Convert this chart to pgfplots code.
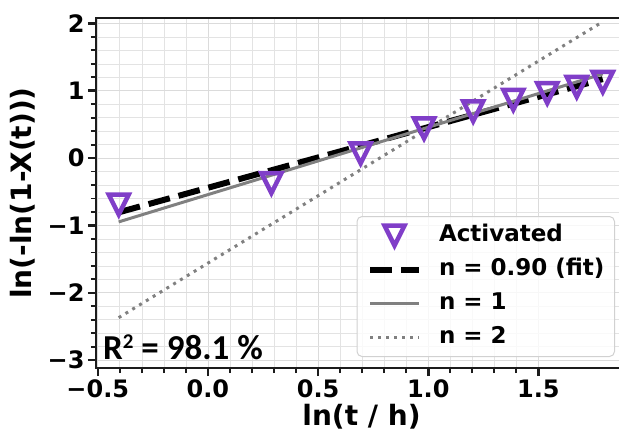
\documentclass[border=0pt]{standalone}
\usepackage{fontspec}
\setmainfont{DejaVu Sans}
\newfontfamily\calib{Carlito}
\usepackage{pgfplots}
\pgfplotsset{compat=1.18}

\definecolor{actv}{RGB}{128,62,200}
\definecolor{spine}{RGB}{28,28,28}

% downward triangle centred on its bounding box
\pgfdeclareplotmark{tridown}{%
  \pgfpathmoveto{\pgfqpoint{0pt}{-\pgfplotmarksize}}%
  \pgfpathlineto{\pgfqpoint{\pgfplotmarksize}{\pgfplotmarksize}}%
  \pgfpathlineto{\pgfqpoint{-\pgfplotmarksize}{\pgfplotmarksize}}%
  \pgfpathclose
  \pgfusepathqstroke}

\pgfplotsset{
  lineleg/.style={legend image code/.code={\draw[##1] (0pt,0pt) -- (49pt,0pt);}},
  markleg/.style={legend image code/.code={\draw[##1] plot coordinates {(24.5pt,0pt)};}},
}

\begin{document}
\begin{tikzpicture}
\begin{axis}[
  scale only axis, width=531pt, height=350pt,
  xmin=-0.508, xmax=1.902, ymin=-3.116, ymax=2.08,
  xtick={-0.5,0,0.5,1,1.5}, xticklabels={−0.5,0.0,0.5,1.0,1.5},
  ytick={-3,-2,-1,0,1,2}, yticklabels={−3,−2,−1,0,1,2},
  minor x tick num=4, minor y tick num=4,
  tick pos=left, tick align=outside,
  major tick length=8pt, minor tick length=5pt,
  major tick style={line width=2.5pt, spine},
  minor tick style={line width=1.8pt, spine},
  axis line style={line width=2.7pt, spine},
  grid=both,
  major grid style={line width=0.8pt, black!14},
  minor grid style={line width=0.6pt, black!11},
  ticklabel style={font=\fontsize{24}{28}\selectfont\bfseries},
  label style={font=\fontsize{28}{32}\selectfont\bfseries},
  xlabel={ln(t / h)}, ylabel={ln(-ln(1-X(t)))},
  ylabel style={yshift=6pt},
  legend cell align=left,
  legend style={at={(0.9774,0.0314)}, anchor=south east,
    draw=black!18, line width=1pt, rounded corners=5pt,
    fill=white, fill opacity=0.8, text opacity=1,
    font=\fontsize{23}{27}\selectfont\bfseries,
    nodes={inner sep=0pt, text height=17pt, text depth=5pt},
    inner xsep=10pt, inner ysep=8pt, row sep=12pt, column sep=17pt},
  lineleg,
]
% measured points, t = 2/3 ... 6 h
\addplot[only marks, mark=tridown, mark size=10pt, actv,
  mark options={solid, line width=4.5pt, line join=miter}, markleg]
  coordinates {
  (-0.405,-0.69) (0.288,-0.37) (0.693,0.07) (0.981,0.44) (1.204,0.695)
  (1.386,0.865) (1.540,0.965) (1.674,1.058) (1.792,1.13)};
\addlegendentry{Activated}
% Avrami fit and reference slopes
\addplot[black, line width=6pt, dash pattern=on 22pt off 9pt]
  coordinates {(-0.405,-0.805) (1.792,1.173)};
\addlegendentry{n = 0.90 (fit)}
\addplot[gray, line width=3pt]
  coordinates {(-0.405,-0.947) (1.792,1.250)};
\addlegendentry{n = 1}
\addplot[gray, line width=3pt, dash pattern=on 3pt off 5pt]
  coordinates {(-0.405,-2.369) (1.792,2.025)};
\addlegendentry{n = 2}
\node[anchor=base west, inner sep=0pt, font=\calib\bfseries\fontsize{35}{40}\selectfont]
  at ([xshift=7pt,yshift=8.5pt]axis description cs:0,0)
  {R\raisebox{11.5pt}{\fontsize{21}{21}\selectfont 2} = 98.1 \%};
\end{axis}
\pgfresetboundingbox
\path[use as bounding box] ([xshift=-96pt,yshift=-66pt]current axis.south west)
  rectangle ([xshift=523pt,yshift=18pt]current axis.north west);
\end{tikzpicture}
\end{document}
